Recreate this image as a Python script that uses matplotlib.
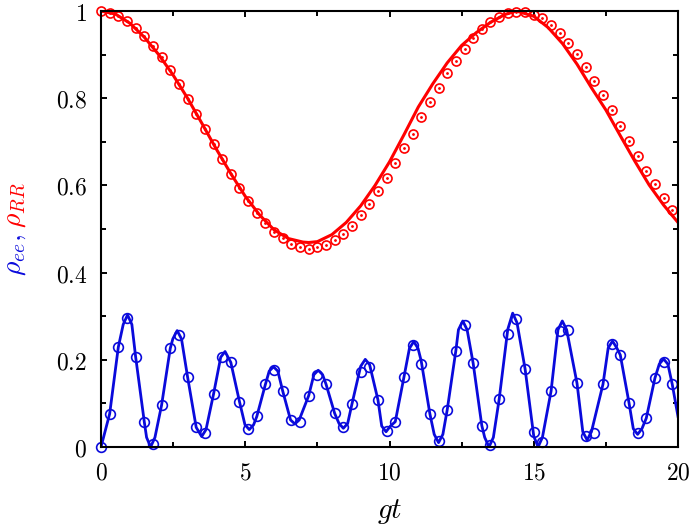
import matplotlib
matplotlib.use('Agg')
import matplotlib.pyplot as plt
from matplotlib.ticker import MultipleLocator

plt.rcParams['mathtext.fontset'] = 'cm'

# sampled points (circles), every 0.3 in gt
t_pts = [round(0.3 * i, 1) for i in range(67)]

rr_pts = [1.000, 0.996, 0.989, 0.977, 0.962, 0.943, 0.920, 0.894, 0.865, 0.832,
          0.798, 0.764, 0.729, 0.694, 0.660, 0.626, 0.593, 0.564, 0.537, 0.514,
          0.494, 0.479, 0.465, 0.458, 0.454, 0.458, 0.463, 0.475, 0.489, 0.508,
          0.531, 0.557, 0.587, 0.618, 0.651, 0.685, 0.719, 0.756, 0.791, 0.824,
          0.857, 0.886, 0.913, 0.939, 0.959, 0.975, 0.987, 0.995, 0.998, 0.997,
          0.991, 0.983, 0.968, 0.949, 0.926, 0.901, 0.871, 0.840, 0.807, 0.773,
          0.736, 0.702, 0.667, 0.634, 0.603, 0.570, 0.544]

ee_pts = [0.000, 0.076, 0.229, 0.295, 0.207, 0.058, 0.006, 0.096, 0.226, 0.257,
          0.161, 0.045, 0.031, 0.121, 0.207, 0.194, 0.104, 0.041, 0.070, 0.144,
          0.177, 0.128, 0.062, 0.057, 0.118, 0.165, 0.144, 0.077, 0.047, 0.099,
          0.173, 0.184, 0.108, 0.037, 0.058, 0.160, 0.234, 0.190, 0.076, 0.014,
          0.085, 0.221, 0.280, 0.192, 0.049, 0.005, 0.109, 0.259, 0.294, 0.179,
          0.034, 0.011, 0.128, 0.265, 0.268, 0.146, 0.026, 0.031, 0.144, 0.236,
          0.211, 0.102, 0.031, 0.066, 0.158, 0.196, 0.144]

# solid curves
t_line_rr = [0, 0.5, 1.0, 1.5, 2.0, 2.5, 3.0, 3.5, 4.0, 4.5, 5.0, 5.5, 6.0, 6.5,
             7.0, 7.2, 7.5, 8.0, 8.5, 9.0, 9.5, 10.0, 10.5, 11.0, 11.5, 12.0,
             12.5, 13.0, 13.5, 14.0, 14.4, 15.0, 15.5, 16.0, 16.5, 17.0, 17.5,
             18.0, 18.5, 19.0, 19.5, 20.0]
rr_line = [1.000, 0.993, 0.972, 0.940, 0.900, 0.853, 0.800, 0.742, 0.683, 0.627,
           0.575, 0.532, 0.498, 0.478, 0.470, 0.469, 0.471, 0.487, 0.515, 0.553,
           0.600, 0.654, 0.716, 0.780, 0.833, 0.881, 0.921, 0.950, 0.974, 0.992,
           1.000, 0.988, 0.962, 0.925, 0.878, 0.824, 0.773, 0.714, 0.656, 0.601,
           0.555, 0.515]

t_line_ee = [0.0, 0.3, 0.6, 0.77, 0.92, 1.07, 1.2, 1.5, 1.58, 1.72, 1.87, 2.1,
             2.4, 2.49, 2.64, 2.79, 3.0, 3.3, 3.49, 3.64, 3.9, 4.15, 4.30, 4.5,
             4.8, 4.99, 5.14, 5.29, 5.4, 5.7, 5.83, 5.98, 6.13, 6.3, 6.57, 6.72,
             6.87, 7.2, 7.38, 7.53, 7.68, 7.8, 8.1, 8.25, 8.4, 8.55, 8.7, 9.0,
             9.16, 9.31, 9.6, 9.73, 9.88, 10.03, 10.2, 10.5, 10.69, 10.84, 10.99,
             11.1, 11.4, 11.55, 11.7, 11.85, 12.0, 12.3, 12.39, 12.54, 12.69, 12.9,
             13.2, 13.30, 13.45, 13.60, 13.8, 14.1, 14.27, 14.42, 14.7, 15.0,
             15.15, 15.3, 15.6, 15.84, 15.99, 16.14, 16.5, 16.7, 16.85, 17.0,
             17.4, 17.58, 17.73, 17.88, 18.0, 18.3, 18.45, 18.6, 18.75, 18.9,
             19.2, 19.35, 19.5, 19.65, 19.8, 20.0]
ee_line = [0.000, 0.076, 0.229, 0.281, 0.303, 0.281, 0.207, 0.058, 0.022, 0.000,
           0.022, 0.096, 0.226, 0.248, 0.267, 0.248, 0.161, 0.045, 0.024, 0.040,
           0.121, 0.206, 0.219, 0.194, 0.104, 0.051, 0.040, 0.051, 0.070, 0.144,
           0.174, 0.184, 0.174, 0.128, 0.062, 0.053, 0.062, 0.118, 0.166, 0.176,
           0.166, 0.144, 0.077, 0.054, 0.043, 0.054, 0.099, 0.185, 0.201, 0.189,
           0.108, 0.048, 0.035, 0.048, 0.058, 0.160, 0.226, 0.242, 0.226, 0.197,
           0.076, 0.029, 0.010, 0.029, 0.085, 0.221, 0.269, 0.289, 0.269, 0.192,
           0.049, 0.022, 0.000, 0.022, 0.109, 0.270, 0.307, 0.285, 0.179, 0.025,
           0.000, 0.022, 0.128, 0.269, 0.289, 0.269, 0.146, 0.035, 0.016, 0.035,
           0.144, 0.227, 0.243, 0.227, 0.211, 0.102, 0.042, 0.029, 0.042, 0.066,
           0.158, 0.190, 0.202, 0.190, 0.144, 0.070]

x_ticks = [0, 5, 10, 15, 20]
x_tick_labels = ['0', '5', '10', '15', '20']
y_ticks = [0, 0.2, 0.4, 0.6, 0.8, 1]
y_tick_labels = ['0', '0.2', '0.4', '0.6', '0.8', '1']

red = '#ff0000'
blue = '#0a0adc'

fig = plt.figure(figsize=(6.89, 5.27), dpi=100)
ax = fig.add_axes([101 / 689, 80 / 527, 577 / 689, 436 / 527])

ax.plot(t_line_rr, rr_line, color=red, lw=2.2)
ax.plot(t_pts, rr_pts, 'o', mfc='none', mec=red, ms=6.5, mew=1.2, clip_on=False)
ax.plot(t_pts, rr_pts, '.', color=red, ms=2, clip_on=False)
ax.plot(t_line_ee, ee_line, color=blue, lw=2)
ax.plot(t_pts, ee_pts, 'o', mfc='none', mec=blue, ms=7, mew=1.2, clip_on=False)

ax.set_xlim(0, 20)
ax.set_ylim(0, 1)
ax.set_xticks(x_ticks, labels=['$%s$' % s for s in x_tick_labels])
ax.set_yticks(y_ticks, labels=['$%s$' % s for s in y_tick_labels])
ax.xaxis.set_minor_locator(MultipleLocator(2.5))
ax.yaxis.set_minor_locator(MultipleLocator(0.1))
ax.tick_params(which='both', direction='in', top=True, right=True, width=1.4,
               labelsize=17, pad=10)
ax.tick_params(which='major', length=4.5)
ax.tick_params(which='minor', length=3.5)
for sp in ax.spines.values():
    sp.set_linewidth(1.5)

ax.set_xlabel('$gt$', fontsize=21, labelpad=9)

# two-coloured y label
fig.text(0.021, (527 - 234) / 527, r'$\rho_{ee},$', color=blue, fontsize=20,
         rotation=90, ha='center', va='top')
fig.text(0.021, (527 - 228) / 527, r'$\rho_{RR}$', color=red, fontsize=20,
         rotation=90, ha='center', va='bottom')

fig.savefig('out.png', dpi=100)
